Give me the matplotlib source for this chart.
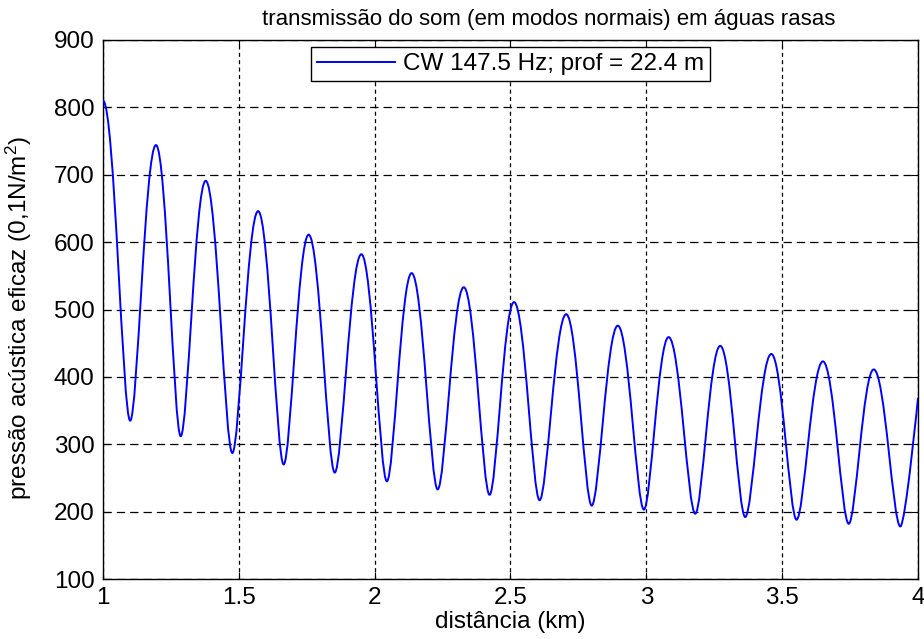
import matplotlib
matplotlib.use("Agg")
import matplotlib.pyplot as plt
from matplotlib.path import Path
from matplotlib.patches import PathPatch
from matplotlib.lines import Line2D

# extrema of the curve (distance in km, pressure in 0,1 N/m^2)
# first point is the left edge (near a peak), last point is the cut at x = 4
dist_km = [1.000, 1.100, 1.195, 1.286, 1.378, 1.476, 1.571, 1.665, 1.757, 1.853,
           1.951, 2.045, 2.136, 2.232, 2.328, 2.423, 2.513, 2.607, 2.705, 2.799,
           2.895, 2.991, 3.082, 3.180, 3.272, 3.364, 3.460, 3.553, 3.650, 3.745,
           3.837, 3.935, 4.000]
pressure = [810, 335, 744, 312, 691, 287, 646, 270, 611, 258,
            582, 245, 554, 233, 533, 225, 511, 217, 493, 209,
            476, 203, 459, 197, 446, 192, 434, 188, 423, 182,
            411, 178, 369]

x_ticks = [1, 1.5, 2, 2.5, 3, 3.5, 4]
x_tick_labels = ["1", "1.5", "2", "2.5", "3", "3.5", "4"]
y_ticks = [100, 200, 300, 400, 500, 600, 700, 800, 900]

title = "transmissão do som (em modos normais) em águas rasas"
x_label = "distância (km)"
y_label = "pressão acústica eficaz (0,1N/m$^2$)"
legend_label = "CW 147.5 Hz; prof = 22.4 m"

BLUE = "#0000ff"
LINE_W = 1.4
FS = 17.5
# bezier handle lengths (fraction of segment width): rounded peaks, narrower troughs
PEAK_HANDLE = 0.42
TROUGH_HANDLE = 0.28

plt.rcParams["font.family"] = ["Liberation Sans", "DejaVu Sans"]
plt.rcParams["font.size"] = FS
plt.rcParams["mathtext.fontset"] = "custom"
plt.rcParams["mathtext.rm"] = "Liberation Sans"
plt.rcParams["mathtext.it"] = "Liberation Sans:italic"
plt.rcParams["lines.scale_dashes"] = False

fig = plt.figure(figsize=(9.24, 6.39), dpi=100, facecolor="white")
ax = fig.add_axes([103 / 924, 1 - 579 / 639, 815 / 924, 539 / 639])

# smooth curve through the extrema, drawn in data coordinates
verts = [(dist_km[0], pressure[0])]
codes = [Path.MOVETO]
n = len(dist_km)
for i in range(n - 1):
    x1, y1 = dist_km[i], pressure[i]
    x2, y2 = dist_km[i + 1], pressure[i + 1]
    dx = x2 - x1
    h1 = PEAK_HANDLE if y1 > y2 else TROUGH_HANDLE
    h2 = TROUGH_HANDLE if y1 > y2 else PEAK_HANDLE
    c1 = (x1 + h1 * dx, y1)
    c2 = (x2 - h2 * dx, y2) if i < n - 2 else (x2, y2)
    verts += [c1, c2, (x2, y2)]
    codes += [Path.CURVE4] * 3

curve = PathPatch(Path(verts, codes), facecolor="none", edgecolor=BLUE,
                  linewidth=LINE_W, zorder=3)
ax.add_patch(curve)

ax.set_xlim(1, 4)
ax.set_ylim(100, 900)
ax.set_xticks(x_ticks)
ax.set_xticklabels(x_tick_labels)
ax.set_yticks(y_ticks)

ax.tick_params(direction="in", length=5, width=0.8, top=True, right=True,
               pad=6, labelsize=FS)
for sp in ax.spines.values():
    sp.set_linewidth(1.0)
    sp.set_color("black")

ax.grid(axis="x", color="black", linestyle=(0, (2.9, 2.4)), linewidth=0.9)
ax.grid(axis="y", color="black", linestyle=(0, (6.0, 3.6)), linewidth=0.9)
ax.set_axisbelow(True)

ax.set_title(title, fontsize=16, pad=11, x=0.547)
ax.set_xlabel(x_label, fontsize=FS)
ax.set_ylabel(y_label, fontsize=FS)
ax.xaxis.set_label_coords(0.5, -0.06)
ax.yaxis.set_label_coords(-0.085, 0.485)

proxy = Line2D([], [], color=BLUE, linewidth=LINE_W, label=legend_label)
leg = ax.legend(handles=[proxy], loc="upper center", fontsize=FS,
                fancybox=False, framealpha=1, edgecolor="black",
                borderaxespad=0.3, handlelength=3.2, handletextpad=0.35,
                borderpad=0.25)
leg.get_frame().set_linewidth(1.0)

fig.savefig("out.png", dpi=100, facecolor="white")
